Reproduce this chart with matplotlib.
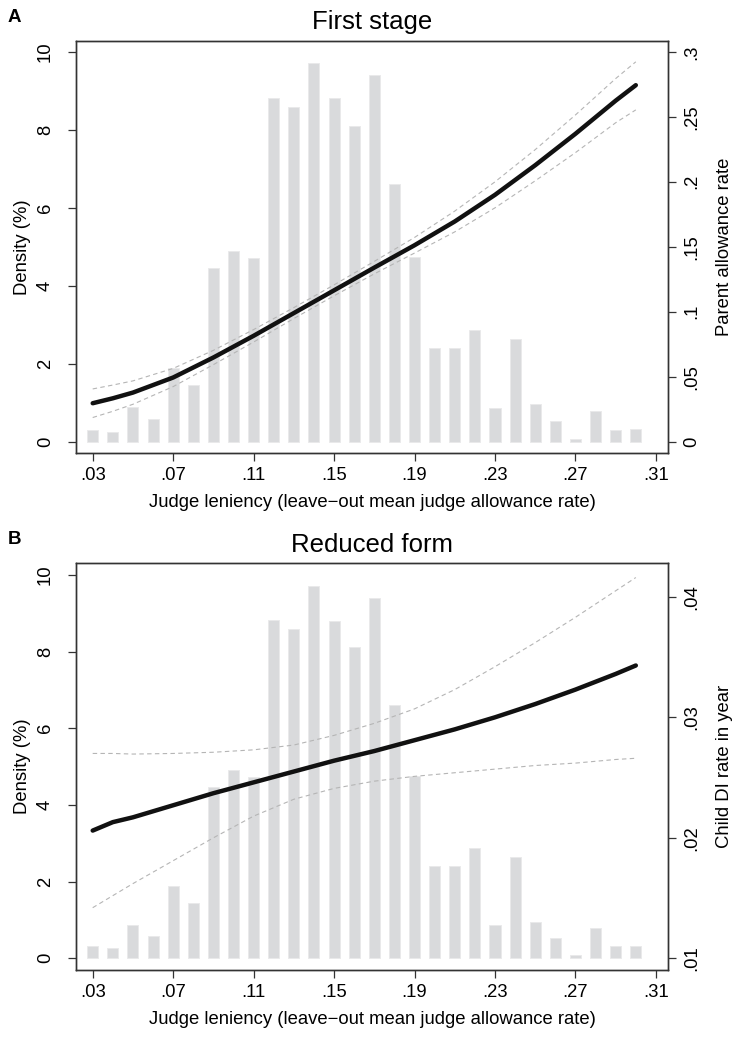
import matplotlib
matplotlib.use("Agg")
from matplotlib import pyplot as plt

plt.rcParams["font.family"] = ["Liberation Sans", "DejaVu Sans"]

# histogram of judge leniency (same in both panels)
bin_x = [0.03, 0.04, 0.05, 0.06, 0.07, 0.08, 0.09, 0.10, 0.11, 0.12,
         0.13, 0.14, 0.15, 0.16, 0.17, 0.18, 0.19, 0.20, 0.21, 0.22,
         0.23, 0.24, 0.25, 0.26, 0.27, 0.28, 0.29, 0.30]
density = [0.31, 0.26, 0.88, 0.58, 1.89, 1.45, 4.46, 4.90, 4.72, 8.83,
           8.59, 9.71, 8.81, 8.11, 9.40, 6.60, 4.75, 2.41, 2.41, 2.87,
           0.86, 2.63, 0.96, 0.52, 0.08, 0.79, 0.31, 0.32]

# fitted curves, read at these leniency values
fit_x = [0.03, 0.04, 0.05, 0.07, 0.09, 0.11, 0.13, 0.15, 0.17, 0.19,
         0.21, 0.23, 0.25, 0.27, 0.29, 0.30]

first_fit = [0.0296, 0.0334, 0.0378, 0.0494, 0.0648, 0.0815, 0.0990, 0.1165,
             0.1340, 0.1512, 0.1695, 0.1900, 0.2128, 0.2370, 0.2625, 0.2744]
first_hi = [0.0406, 0.0436, 0.0468, 0.0564, 0.0703, 0.0863, 0.1032, 0.1207,
            0.1388, 0.1572, 0.1775, 0.2000, 0.2248, 0.2515, 0.2795, 0.2924]
first_lo = [0.0186, 0.0234, 0.0288, 0.0424, 0.0593, 0.0767, 0.0948, 0.1123,
            0.1292, 0.1452, 0.1615, 0.1800, 0.2008, 0.2225, 0.2455, 0.2554]

reduced_fit = [0.0206, 0.0213, 0.0217, 0.0227, 0.0237, 0.0246, 0.0255, 0.0264,
               0.0272, 0.0281, 0.0290, 0.0300, 0.0311, 0.0323, 0.0336, 0.0343]
reduced_hi = [0.0270, 0.0270, 0.02695, 0.0270, 0.0271, 0.0273, 0.0277, 0.0285,
              0.0295, 0.0307, 0.0323, 0.0342, 0.0362, 0.0383, 0.0405, 0.0416]
reduced_lo = [0.0142, 0.0152, 0.0162, 0.0181, 0.0200, 0.0218, 0.0232, 0.0241,
              0.0247, 0.0251, 0.0254, 0.0257, 0.0260, 0.0262, 0.0265, 0.0266]

x_ticks = [0.03, 0.07, 0.11, 0.15, 0.19, 0.23, 0.27, 0.31]
x_labels = [".03", ".07", ".11", ".15", ".19", ".23", ".27", ".31"]
dens_ticks = [0, 2, 4, 6, 8, 10]
first_ticks = [0, 0.05, 0.1, 0.15, 0.2, 0.25, 0.3]
first_labels = ["0", ".05", ".1", ".15", ".2", ".25", ".3"]
reduced_ticks = [0.01, 0.02, 0.03, 0.04]
reduced_labels = [".01", ".02", ".03", ".04"]

W, H = 732, 1037
FS = 13.3
frame = "#333333"


def panel(rect, letter, title, fit, hi, lo, ylim_l, ylim_r,
          rticks, rlabels, rlabel, letter_y, title_y):
    ax = fig.add_axes(rect)
    ax.bar(bin_x, density, width=0.0055, color="#d9dadc",
           edgecolor="#e9e9ea", linewidth=0.6, zorder=1)
    ax.set_xlim(0.0217, 0.316)
    ax.set_ylim(*ylim_l)
    ax.set_xticks(x_ticks)
    ax.set_xticklabels(x_labels)
    ax.set_yticks(dens_ticks)
    ax.set_yticklabels([str(t) for t in dens_ticks], rotation=90, va="center")
    ax.set_ylabel("Density (%)", fontsize=FS, labelpad=4)
    ax.set_xlabel("Judge leniency (leave\u2212out mean judge allowance rate)",
                  fontsize=FS, labelpad=7)
    ax.tick_params(axis="both", labelsize=FS, length=6, width=0.9,
                   color=frame, direction="out")
    ax.tick_params(axis="y", pad=10)
    ax.tick_params(axis="x", pad=4)

    ax2 = ax.twinx()
    ax2.set_ylim(*ylim_r)
    ax2.plot(fit_x, hi, color="#b5b5b5", lw=0.8, dashes=(4, 3))
    ax2.plot(fit_x, lo, color="#b5b5b5", lw=0.8, dashes=(4, 3))
    ax2.plot(fit_x, fit, color="#111111", lw=3.2, solid_capstyle="round")
    ax2.set_yticks(rticks)
    ax2.set_yticklabels(rlabels, rotation=90, va="center")
    ax2.tick_params(axis="y", labelsize=FS, length=6, width=0.9,
                    color=frame, pad=5)
    ax2.set_ylabel(rlabel, fontsize=FS, labelpad=11)

    for a in (ax, ax2):
        for s in a.spines.values():
            s.set_color(frame)
            s.set_linewidth(1.0)

    fig.text(8 / W, 1 - letter_y / H, letter, fontsize=13.5, fontweight="bold",
             va="center", ha="left")
    fig.text(372 / W, 1 - title_y / H, title, fontsize=18.5,
             va="center", ha="center")


fig = plt.figure(figsize=(W / 100, H / 100), dpi=100)

panel([76 / W, 1 - 453 / H, 592 / W, 412 / H], "A", "First stage",
      first_fit, first_hi, first_lo, (-0.29, 10.28), (-0.0087, 0.3084),
      first_ticks, first_labels, "Parent allowance rate", 18, 22)

panel([76 / W, 1 - 970 / H, 592 / W, 407.3 / H], "B", "Reduced form",
      reduced_fit, reduced_hi, reduced_lo, (-0.305, 10.32), (0.00903, 0.04283),
      reduced_ticks, reduced_labels, "Child DI rate in year", 540, 545)

fig.savefig("out.png", dpi=100)
